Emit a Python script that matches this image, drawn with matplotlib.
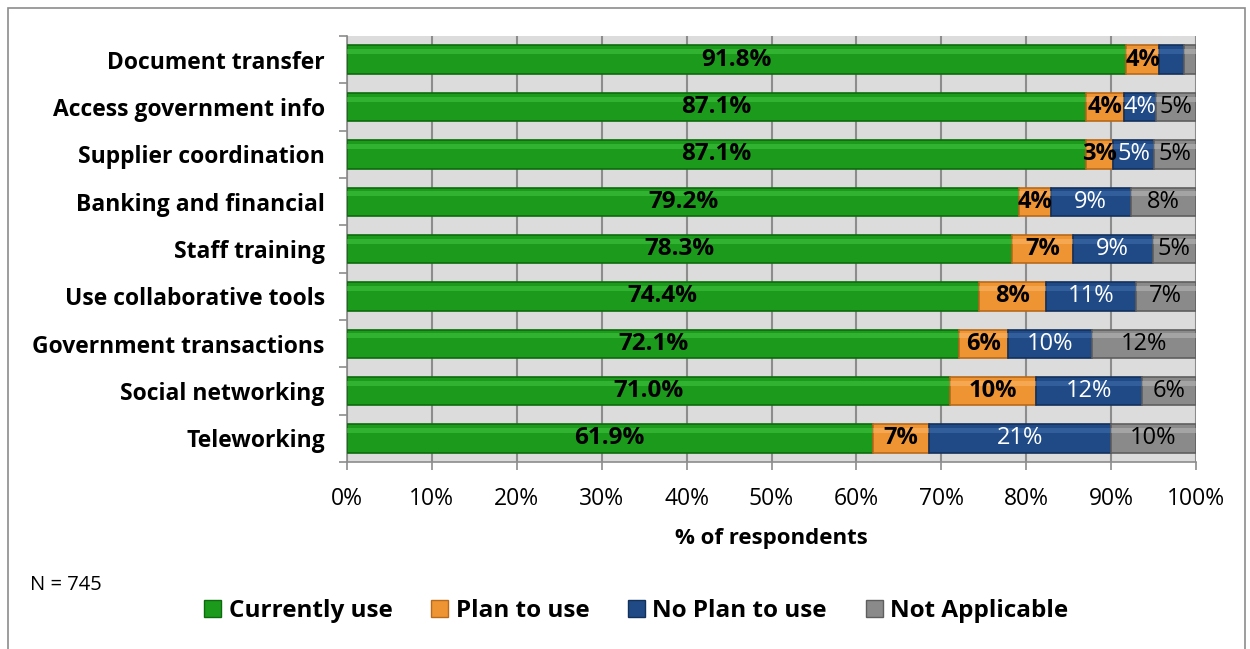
import numpy as np
import matplotlib.pyplot as plt
from matplotlib.patches import Rectangle

categories = ['Document transfer', 'Access government info', 'Supplier coordination',
              'Banking and financial', 'Staff training', 'Use collaborative tools',
              'Government transactions', 'Social networking', 'Teleworking']
currently_use = [91.8, 87.1, 87.1, 79.2, 78.3, 74.4, 72.1, 71.0, 61.9]
plan_to_use = [3.9, 4.4, 3.1, 3.7, 7.2, 7.9, 5.8, 10.2, 6.7]
no_plan_to_use = [2.9, 3.8, 4.9, 9.4, 9.4, 10.6, 9.9, 12.4, 21.4]
not_applicable = [1.4, 4.7, 4.9, 7.7, 5.1, 7.1, 12.2, 6.4, 10.0]
series_names = ['Currently use', 'Plan to use', 'No Plan to use', 'Not Applicable']

plt.rcParams['font.family'] = ['Open Sans', 'DejaVu Sans']

fig = plt.figure(figsize=(12.5, 6.49), dpi=100)
ax = fig.add_axes([0.2776, 0.288, 0.6792, 0.6565])

colors = ['#1c9a1c', '#ef9433', '#1f4a86', '#8a8a8a']
edges = ['#0d6b0d', '#b8691a', '#13305a', '#5e5e5e']
highlights = ['#4cd04c', '#ffc07a', '#4a78b8', '#c4c4c4']
label_color = ['black', 'black', 'white', 'black']
label_weight = ['bold', 'bold', 'normal', 'normal']
label_size = [17.5, 17, 17, 17]

data = [currently_use, plan_to_use, no_plan_to_use, not_applicable]
y = np.arange(len(categories))
h = 0.6
left = np.zeros(len(categories))
for k, vals in enumerate(data):
    vals = np.array(vals)
    ax.barh(y, vals, left=left, height=h, color=colors[k], edgecolor=edges[k],
            linewidth=1.2, zorder=3, label=series_names[k])
    # light strip for the bevelled look
    ax.barh(y - h * 0.28, vals, left=left, height=h * 0.18, color=highlights[k],
            alpha=0.45, linewidth=0, zorder=4)
    for i, v in enumerate(vals):
        if v < 3:
            continue
        txt = f'{v:.1f}%' if k == 0 else f'{round(v):.0f}%'
        ax.text(left[i] + v / 2, y[i], txt, ha='center', va='center', fontsize=label_size[k],
                color=label_color[k], fontweight=label_weight[k], zorder=5)
    left += vals

ax.set_xlim(0, 100)
ax.set_ylim(len(categories) - 0.5, -0.5)
ax.set_facecolor('#dcdcdc')
ax.set_xticks(np.arange(0, 101, 10))
ax.set_xticklabels([f'{t}%' for t in range(0, 101, 10)], fontsize=16.5)
ax.grid(axis='x', color='#8c8c8c', linewidth=1.5, zorder=0)
ax.set_yticks(y)
ax.set_yticklabels(categories, fontsize=16.5, fontweight='bold')
ax.set_yticks(np.arange(-0.5, len(categories), 1), minor=True)
ax.tick_params(axis='y', which='major', length=0, pad=16)
ax.tick_params(axis='y', which='minor', length=6, color='#8c8c8c', width=1.2)
ax.tick_params(axis='x', length=6, color='#8c8c8c', width=1.2, pad=12)
for s in ['top', 'right']:
    ax.spines[s].set_visible(False)
for s in ['left', 'bottom']:
    ax.spines[s].set_color('#8c8c8c')
    ax.spines[s].set_linewidth(1.2)
ax.set_xlabel('% of respondents', fontsize=16, fontweight='bold', labelpad=12)

fig.text(0.024, 0.098, 'N = 745', fontsize=14.5, va='center')

handles = [Rectangle((0, 0), 1, 1, facecolor=colors[k], edgecolor=edges[k]) for k in range(4)]
fig.legend(handles, series_names, loc='center', bbox_to_anchor=(0.509, 0.058), ncol=4,
           frameon=False, prop={'size': 17.5, 'weight': 'bold'}, handlelength=0.7,
           handleheight=0.7, handletextpad=0.3, columnspacing=1.6)

fig.add_artist(Rectangle((0.006, -0.01), 0.99, 0.998, transform=fig.transFigure,
                         fill=False, edgecolor='#8c8c8c', linewidth=1.2))

fig.savefig('out.png', dpi=100)
